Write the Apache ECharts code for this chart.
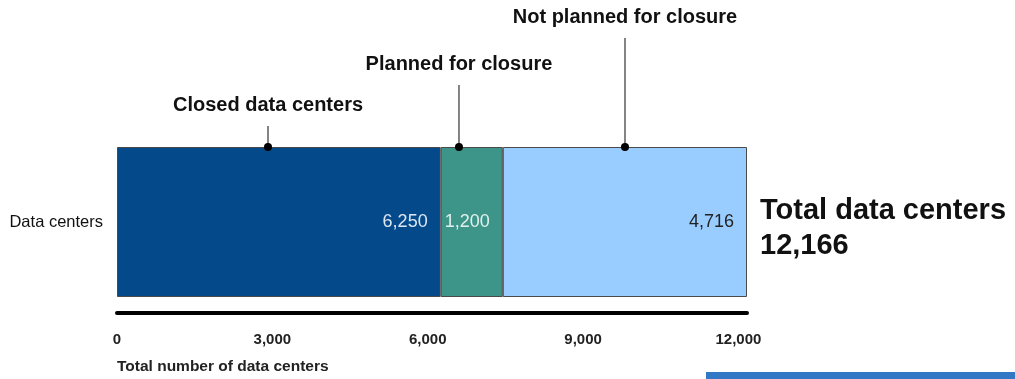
<!DOCTYPE html>
<html>
<head>
<meta charset="utf-8">
<title>Data center closures</title>
<script src="https://cdn.jsdelivr.net/npm/echarts@6/dist/echarts.min.js"></script>
<style>
  html, body { margin: 0; padding: 0; background: #ffffff; }
  #chart { width: 1015px; height: 379px; }
</style>
</head>
<body>
<div id="chart"></div>
<script>
// ---- data ----
const categories = ['Data centers'];
const segmentNames = ['Closed data centers', 'Planned for closure', 'Not planned for closure'];
const closedValues = [6250];
const plannedValues = [1200];
const notPlannedValues = [4716];
const tickValues = [0, 3000, 6000, 9000, 12000];

// ---- layout for the callout leaders (x in axis units, top in px above the bar) ----
const calloutAnchor = [2916, 6604, 9810];
const calloutRise = [21, 62, 109];

const FONT = '"Liberation Sans", Arial, Helvetica, sans-serif';
const fmt = v => Number(v).toLocaleString('en-US');

const total = closedValues[0] + plannedValues[0] + notPlannedValues[0];

const colors = ['#044A8B', '#3D9488', '#99CCFF'];
const labelColors = ['#DCE6F2', '#E2F0EC', '#222222'];
const seriesValues = [closedValues, plannedValues, notPlannedValues];

const barSeries = seriesValues.map((vals, i) => ({
  name: segmentNames[i],
  type: 'bar',
  stack: 'total',
  xAxisIndex: 0,
  yAxisIndex: 0,
  barWidth: '100%',
  data: vals,
  itemStyle: { color: colors[i], borderColor: '#4a4a4a', borderWidth: 1 },
  label: {
    show: true,
    position: 'insideRight',
    distance: 13,
    color: labelColors[i],
    fontFamily: FONT,
    fontSize: 18,
    formatter: p => fmt(p.value)
  },
  silent: true
}));

// each callout: a dot on the bar's top edge, a thin leader and the segment name above it
const calloutSeries = segmentNames.map((name, i) => ({
  name: name + ' callout',
  type: 'line',
  xAxisIndex: 1,
  yAxisIndex: 1,
  showSymbol: true,
  data: [
    {
      value: [calloutAnchor[i], 0],
      symbol: 'circle',
      symbolSize: 8,
      itemStyle: { color: '#000' }
    },
    {
      value: [calloutAnchor[i], calloutRise[i]],
      symbol: 'circle',
      symbolSize: 1,
      itemStyle: { color: 'rgba(0,0,0,0)' },
      label: {
        show: true,
        position: 'top',
        distance: 10,
        formatter: name,
        color: '#111',
        fontFamily: FONT,
        fontSize: 20,
        fontWeight: 'bold'
      }
    }
  ],
  lineStyle: { color: '#333', width: 1.2 },
  animation: false,
  silent: true
}));

const chart = echarts.init(document.getElementById('chart'), null, { renderer: 'canvas' });

chart.setOption({
  backgroundColor: '#ffffff',
  animation: false,
  textStyle: { fontFamily: FONT },
  title: [
    {
      text: 'Total data centers\n' + fmt(total),
      left: 760,
      top: 193,
      padding: 0,
      textStyle: { fontFamily: FONT, fontSize: 29, fontWeight: 'bold', color: '#111', lineHeight: 35 }
    },
    {
      text: 'Total number of data centers',
      left: 117,
      top: 359,
      padding: 0,
      textStyle: { fontFamily: FONT, fontSize: 15.5, fontWeight: 'bold', color: '#222' }
    }
  ],
  grid: [
    { left: 117, width: 630, top: 147, height: 150, containLabel: false },
    { left: 117, width: 630, top: 0, height: 147, containLabel: false }
  ],
  xAxis: [
    {
      type: 'value',
      gridIndex: 0,
      min: 0,
      max: total,
      interval: tickValues[1] - tickValues[0],
      offset: 16,
      axisLine: { show: true, lineStyle: { color: '#000', width: 4 } },
      axisTick: { show: false },
      splitLine: { show: false },
      axisLabel: {
        margin: 19,
        color: '#222',
        fontFamily: FONT,
        fontSize: 15,
        fontWeight: 'bold',
        formatter: v => (tickValues.indexOf(v) >= 0 ? fmt(v) : '')
      }
    },
    {
      type: 'value',
      gridIndex: 1,
      min: 0,
      max: total,
      show: false
    }
  ],
  yAxis: [
    {
      type: 'category',
      gridIndex: 0,
      data: categories,
      axisLine: { show: false },
      axisTick: { show: false },
      axisLabel: { margin: 14, color: '#111', fontFamily: FONT, fontSize: 16.5 }
    },
    {
      type: 'value',
      gridIndex: 1,
      min: 0,
      max: 147,
      show: false
    }
  ],
  series: barSeries.concat(calloutSeries),
  graphic: [
    {
      type: 'rect',
      shape: { x: 706, y: 372, width: 309, height: 7 },
      style: { fill: '#3278C4' },
      silent: true
    }
  ]
});
</script>
</body>
</html>
